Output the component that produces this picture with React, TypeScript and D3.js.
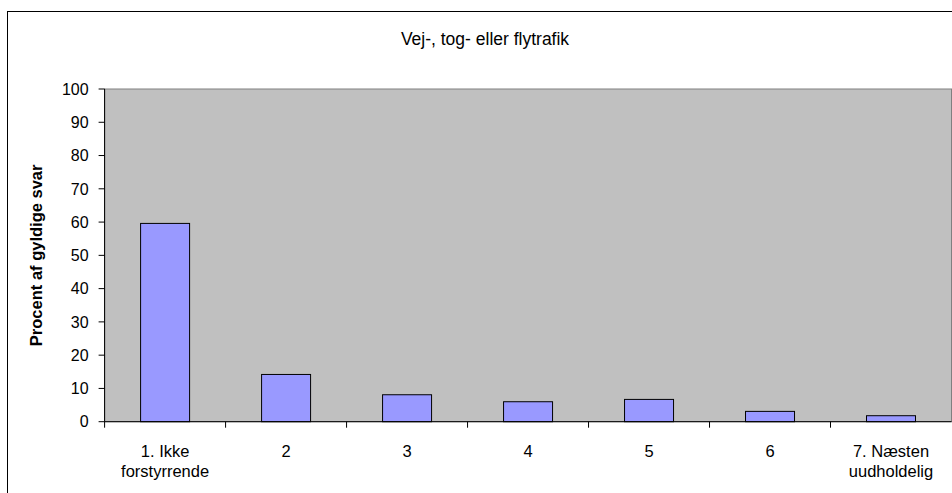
import React from "react";
import * as d3 from "d3";

const categories = ["1. Ikke|forstyrrende", "2", "3", "4", "5", "6", "7. Næsten|uudholdelig"];
const values = [59.6, 14.2, 8.1, 6.0, 6.7, 3.1, 1.8];
const yTicks = [0, 10, 20, 30, 40, 50, 60, 70, 80, 90, 100];
const title = "Vej-, tog- eller flytrafik";
const yTitle = "Procent af gyldige svar";

export default function App() {
  const W = 952, H = 493;
  const left = 104.6, right = 951.5, top = 89, bottom = 421.7;
  const x = d3.scaleBand<string>().domain(categories).range([left, right]).paddingInner(0).paddingOuter(0);
  const y = d3.scaleLinear().domain([0, 100]).range([bottom, top]);
  const bw = x.bandwidth() * 0.405;
  const font = "'Liberation Sans', Arial, sans-serif";
  return (
    <svg width={W} height={H} style={{ position: "absolute", left: 0, top: 0, background: "#fff" }} fontFamily={font}>
      <rect x={7.5} y={11.5} width={956} height={500} fill="#fff" stroke="#000" strokeWidth={1} />
      <text x={485} y={45} textAnchor="middle" fontSize={17.5} fill="#000">{title}</text>
      <rect x={left} y={top} width={right - left} height={bottom - top} fill="#C0C0C0" stroke="#808080" strokeWidth={1} />
      {categories.map((c, i) => (
        <rect key={c} x={x(c)! + (x.bandwidth() - bw) / 2} y={y(values[i])} width={bw} height={bottom - y(values[i])}
          fill="#9999FF" stroke="#000" strokeWidth={1} />
      ))}
      <line x1={left} x2={left} y1={top} y2={bottom} stroke="#000" />
      <line x1={left} x2={right} y1={bottom} y2={bottom} stroke="#000" />
      {yTicks.map(t => (
        <g key={t}>
          <line x1={left - 6} x2={left} y1={y(t)} y2={y(t)} stroke="#000" />
          <text x={left - 16} y={y(t)} dy="0.36em" textAnchor="end" fontSize={16} fill="#000">{t}</text>
        </g>
      ))}
      {categories.map((c, i) => (
        <line key={"t" + i} x1={x(c)!} x2={x(c)!} y1={bottom} y2={bottom + 6} stroke="#000" />
      ))}
      {categories.map(c => (
        <text key={"l" + c} x={x(c)! + x.bandwidth() / 2} y={456.5} textAnchor="middle" fontSize={16.5} fill="#000">
          {c.split("|").map((s, j) => (
            <tspan key={j} x={x(c)! + x.bandwidth() / 2} dy={j === 0 ? 0 : 20.5}>{s}</tspan>
          ))}
        </text>
      ))}
      <text transform={`translate(42, ${(top + bottom) / 2}) rotate(-90)`} textAnchor="middle" fontSize={16.5} fontWeight="bold" fill="#000">{yTitle}</text>
    </svg>
  );
}
